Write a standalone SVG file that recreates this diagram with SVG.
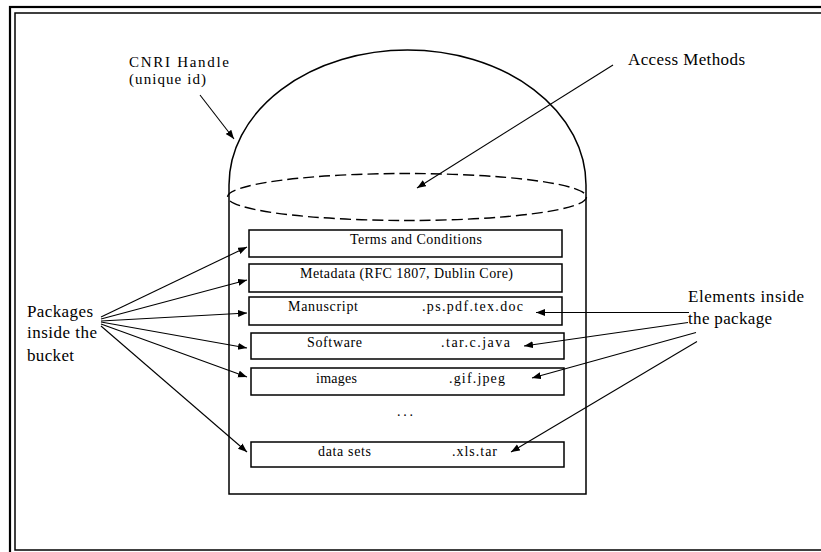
<svg xmlns="http://www.w3.org/2000/svg" width="821" height="552" viewBox="0 0 821 552">
<style>
.frame{fill:none;stroke:#000}
.shape{fill:none;stroke:#000;stroke-width:1.5}
.box{fill:#fff;stroke:#000;stroke-width:1.5}
.conn{fill:none;stroke:#000;stroke-width:1.1;marker-end:url(#arr)}
.bt{font-family:"Liberation Serif","Times New Roman",serif;font-size:14px;fill:#000}
.lb{font-family:"Liberation Serif","Times New Roman",serif;font-size:17px;fill:#000}
.lbs{font-family:"Liberation Serif","Times New Roman",serif;font-size:15px;fill:#000}
</style>
<defs>
<marker id="arr" markerUnits="userSpaceOnUse" markerWidth="10" markerHeight="8" refX="9" refY="3.5" orient="auto">
<path d="M0,0 L9,3.5 L0,7 z" fill="#000"/>
</marker>
</defs>
<rect width="821" height="552" fill="#fff"/>
<g id="frame">
<rect class="frame" x="10" y="7" width="830" height="560" stroke-width="2.2"/>
<rect class="frame" x="15" y="13" width="820" height="537" stroke-width="1.5"/>
</g>
<g id="bucket">
<path class="shape" d="M229,185 A178.5,135 0 0 1 586,185"/>
<path class="shape" d="M229,185 L229,494 L586,494 L586,185"/>
<ellipse cx="407" cy="197" rx="179.5" ry="23.5" fill="none" stroke="#000" stroke-width="1.4" stroke-dasharray="11,5"/>
</g>
<g id="terms">
<rect class="box" x="249" y="230" width="313" height="27"/>
<text class="bt" x="350" y="244" textLength="132" lengthAdjust="spacing">Terms and Conditions</text>
</g>
<g id="metadata">
<rect class="box" x="249" y="264" width="313" height="28"/>
<text class="bt" x="300" y="278" textLength="213" lengthAdjust="spacing">Metadata (RFC 1807, Dublin Core)</text>
</g>
<g id="manuscript">
<rect class="box" x="249" y="297" width="313" height="28"/>
<text class="bt" x="288" y="311" textLength="70" lengthAdjust="spacing">Manuscript</text>
<text class="bt" x="422" y="311" textLength="101" lengthAdjust="spacing">.ps.pdf.tex.doc</text>
</g>
<g id="software">
<rect class="box" x="251" y="333" width="313" height="26"/>
<text class="bt" x="307" y="347" textLength="55" lengthAdjust="spacing">Software</text>
<text class="bt" x="441" y="347" textLength="69" lengthAdjust="spacing">.tar.c.java</text>
</g>
<g id="images">
<rect class="box" x="251" y="368" width="313" height="27"/>
<text class="bt" x="316" y="383" textLength="41" lengthAdjust="spacing">images</text>
<text class="bt" x="449" y="383" textLength="56" lengthAdjust="spacing">.gif.jpeg</text>
</g>
<g id="ellipsis">
<text class="bt" x="397" y="416" textLength="16" lengthAdjust="spacing">...</text>
</g>
<g id="datasets">
<rect class="box" x="251" y="442" width="313" height="25"/>
<text class="bt" x="318" y="456" textLength="53" lengthAdjust="spacing">data sets</text>
<text class="bt" x="452" y="456" textLength="45" lengthAdjust="spacing">.xls.tar</text>
</g>
<g id="label-handle">
<text class="lbs" x="129" y="67" textLength="100" lengthAdjust="spacing">CNRI Handle</text>
<text class="lbs" x="129" y="84" textLength="77" lengthAdjust="spacing">(unique id)</text>
</g>
<g id="label-access">
<text class="lb" x="628" y="65" textLength="117" lengthAdjust="spacing">Access Methods</text>
</g>
<g id="label-packages">
<text class="lb" x="27" y="317" textLength="66" lengthAdjust="spacing">Packages</text>
<text class="lb" x="27" y="338" textLength="70" lengthAdjust="spacing">inside the</text>
<text class="lb" x="27" y="361" textLength="47" lengthAdjust="spacing">bucket</text>
</g>
<g id="label-elements">
<text class="lb" x="688" y="302" textLength="116" lengthAdjust="spacing">Elements inside</text>
<text class="lb" x="688" y="324" textLength="84" lengthAdjust="spacing">the package</text>
</g>
<g id="connectors">
<line class="conn" x1="200" y1="95" x2="234" y2="139"/>
<line class="conn" x1="613" y1="65" x2="417" y2="188"/>
<line class="conn" x1="101" y1="317" x2="247" y2="247"/>
<line class="conn" x1="101" y1="319" x2="247" y2="280"/>
<line class="conn" x1="101" y1="321" x2="247" y2="313"/>
<line class="conn" x1="101" y1="322" x2="247" y2="348"/>
<line class="conn" x1="101" y1="324" x2="247" y2="377"/>
<line class="conn" x1="101" y1="326" x2="247" y2="452"/>
<line class="conn" x1="689" y1="312.5" x2="536" y2="312.5"/>
<line class="conn" x1="688" y1="322.5" x2="524" y2="346"/>
<line class="conn" x1="696" y1="332.5" x2="532" y2="378"/>
<line class="conn" x1="697" y1="341.5" x2="511" y2="452"/>
</g>
</svg>
